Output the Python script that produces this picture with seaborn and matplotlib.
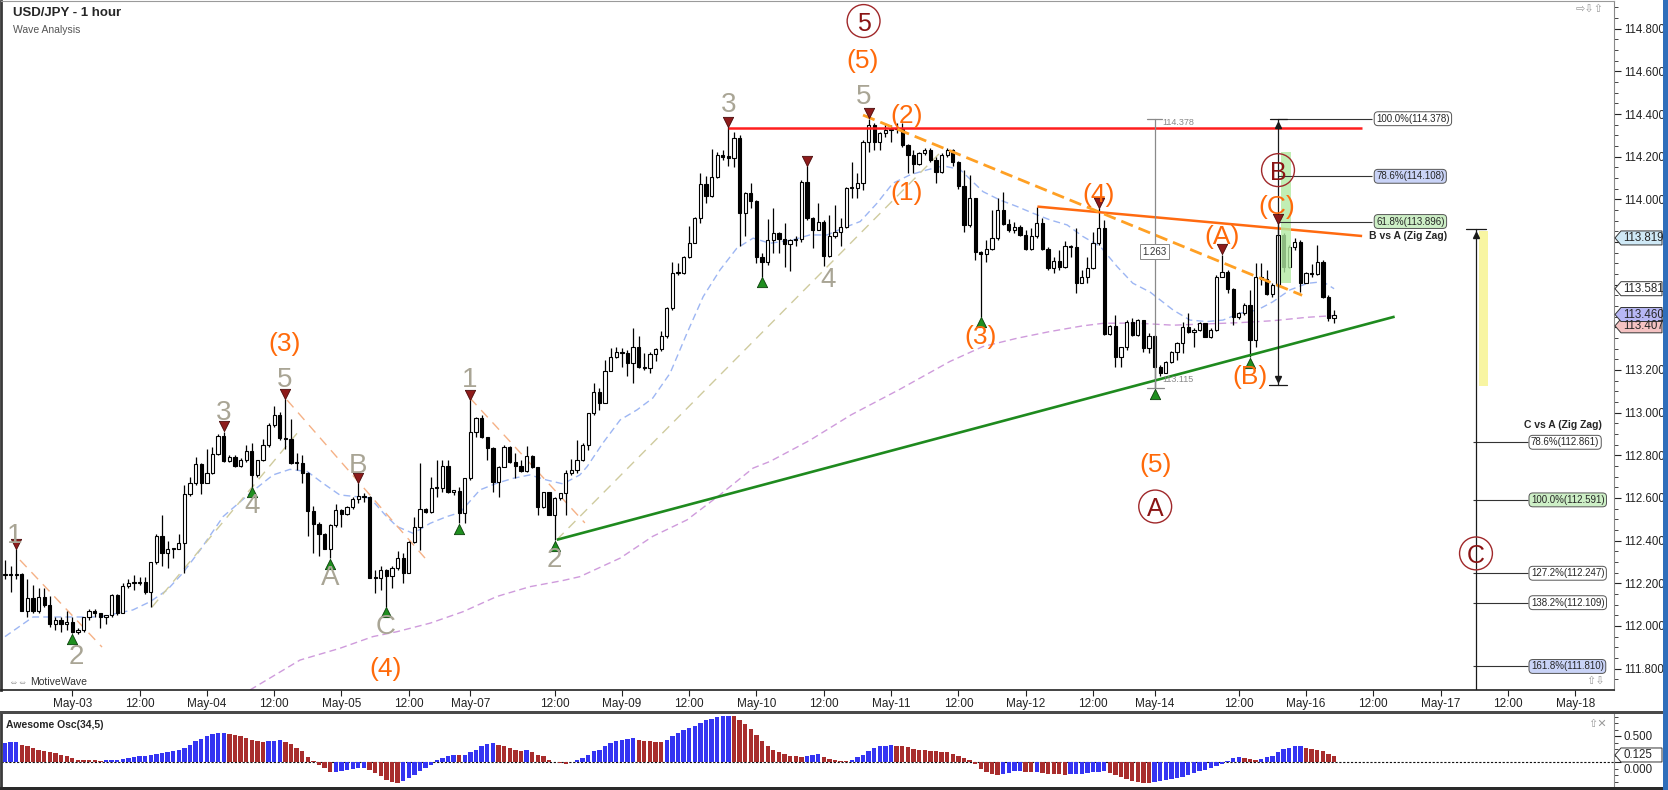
import numpy as np
import matplotlib
matplotlib.use("Agg")
import matplotlib.pyplot as plt
import matplotlib.transforms as mtrans
from matplotlib.patches import Rectangle, Polygon
from matplotlib.ticker import FixedLocator, FuncFormatter
from matplotlib import font_manager
import seaborn as sns

# ---------------- data ----------------
opens = [112.24, 112.245, 112.24, 112.245, 112.07, 112.13, 112.07, 112.135, 112.10, 112.01,
         112.03, 112.01, 112.02, 111.97, 111.98, 112.04, 112.07, 112.06, 112.04, 112.05,
         112.145, 112.06, 112.185, 112.20, 112.20, 112.205, 112.16, 112.30, 112.42, 112.34,
         112.36, 112.36, 112.39, 112.62, 112.67, 112.76, 112.672, 112.716, 112.806, 112.89,
         112.774, 112.794, 112.75, 112.778, 112.822, 112.708, 112.778, 112.85, 112.942, 112.989,
         112.88, 112.878, 112.763, 112.765, 112.716, 112.54, 112.48, 112.43, 112.36, 112.474,
         112.544, 112.525, 112.556, 112.594, 112.61, 112.605, 112.227, 112.224, 112.26, 112.232,
         112.27, 112.317, 112.25, 112.395, 112.466, 112.549, 112.536, 112.645, 112.646, 112.75,
         112.63, 112.633, 112.531, 112.692, 112.911, 112.974, 112.884, 112.833, 112.677, 112.747,
         112.841, 112.77, 112.752, 112.728, 112.797, 112.744, 112.556, 112.627, 112.52, 112.599,
         112.622, 112.716, 112.731, 112.779, 112.849, 112.997, 113.099, 113.047, 113.197, 113.263,
         113.282, 113.280, 113.232, 113.307, 113.213, 113.208, 113.276, 113.297, 113.36, 113.49,
         113.654, 113.656, 113.729, 113.797, 113.911, 114.072, 114.016, 114.104, 114.208, 114.20,
         114.196, 114.286, 113.938, 114.029, 113.993, 113.729, 113.708, 113.81, 113.841, 113.813,
         113.791, 113.81, 113.812, 114.083, 113.911, 113.857, 113.896, 113.735, 113.826, 113.849,
         113.872, 114.052, 114.054, 114.075, 114.271, 114.349, 114.271, 114.31, 114.325, 114.33,
         114.332, 114.255, 114.208, 114.166, 114.216, 114.232, 114.185, 114.13, 114.208, 114.232,
         114.177, 114.063, 113.88, 114.005, 113.755, 113.744, 113.766, 113.818, 113.95, 113.885,
         113.857, 113.872, 113.833, 113.766, 113.829, 113.891, 113.766, 113.68, 113.713, 113.682,
         113.779, 113.776, 113.61, 113.635, 113.677, 113.794, 113.865, 113.369, 113.404, 113.26,
         113.307, 113.427, 113.365, 113.432, 113.302, 113.36, 113.216, 113.188, 113.239, 113.286,
         113.325, 113.40, 113.38, 113.388, 113.419, 113.356, 113.388, 113.638, 113.661, 113.578,
         113.45, 113.466, 113.505, 113.341, 113.638, 113.628, 113.556, 113.60, 113.833, 113.685,
         113.778, 113.80, 113.61, 113.653, 113.648, 113.708, 113.544, 113.442]
highs = [112.31, 112.28, 112.36, 112.25, 112.22, 112.19, 112.18, 112.18, 112.14, 112.04,
         112.04, 112.07, 112.04, 111.99, 112.04, 112.08, 112.08, 112.06, 112.05, 112.15,
         112.15, 112.20, 112.22, 112.24, 112.23, 112.23, 112.30, 112.43, 112.52, 112.40,
         112.365, 112.43, 112.66, 112.70, 112.79, 112.765, 112.83, 112.84, 112.90, 112.91,
         112.80, 112.80, 112.786, 112.85, 112.856, 112.78, 112.875, 112.95, 113.03, 113.005,
         113.063, 112.97, 112.81, 112.80, 112.72, 112.56, 112.485, 112.435, 112.48, 112.57,
         112.547, 112.563, 112.603, 112.669, 112.625, 112.61, 112.26, 112.28, 112.265, 112.28,
         112.353, 112.34, 112.40, 112.513, 112.763, 112.555, 112.70, 112.778, 112.778, 112.778,
         112.635, 112.653, 112.692, 113.059, 112.981, 112.99, 112.888, 112.841, 112.75, 112.849,
         112.844, 112.809, 112.778, 112.844, 112.802, 112.747, 112.63, 112.63, 112.606, 112.625,
         112.731, 112.781, 112.872, 112.857, 113.0, 113.141, 113.115, 113.247, 113.302, 113.307,
         113.302, 113.294, 113.395, 113.36, 113.279, 113.286, 113.302, 113.385, 113.494, 113.704,
         113.70, 113.735, 113.875, 113.916, 114.122, 114.11, 114.235, 114.224, 114.232, 114.338,
         114.318, 114.302, 114.036, 114.075, 113.997, 113.747, 113.907, 113.958, 113.849, 113.888,
         113.813, 113.826, 114.091, 114.154, 113.919, 113.982, 113.904, 113.927, 113.974, 113.911,
         114.06, 114.177, 114.122, 114.279, 114.378, 114.357, 114.318, 114.357, 114.349, 114.357,
         114.357, 114.258, 114.229, 114.224, 114.24, 114.24, 114.2, 114.216, 114.24, 114.236,
         114.18, 114.138, 114.115, 114.008, 113.76, 113.81, 113.95, 114.005, 114.036, 113.907,
         113.896, 113.88, 113.857, 113.865, 113.966, 113.911, 113.776, 113.732, 113.763, 113.807,
         113.786, 113.865, 113.669, 113.729, 113.849, 113.958, 113.904, 113.411, 113.458, 113.31,
         113.435, 113.443, 113.438, 113.435, 113.372, 113.362, 113.224, 113.244, 113.29, 113.333,
         113.427, 113.466, 113.395, 113.427, 113.422, 113.395, 113.645, 113.74, 113.669, 113.583,
         113.474, 113.516, 113.575, 113.70, 113.70, 113.669, 113.61, 113.88, 113.841, 113.786,
         113.817, 113.81, 113.661, 113.697, 113.786, 113.716, 113.552, 113.481]
lows = [112.22, 112.16, 112.22, 112.07, 112.04, 112.06, 112.06, 112.09, 111.997, 111.98,
        111.97, 111.98, 111.965, 111.96, 111.97, 112.03, 112.04, 111.99, 112.01, 112.04,
        112.05, 112.06, 112.18, 112.17, 112.19, 112.15, 112.09, 112.29, 112.28, 112.27,
        112.32, 112.36, 112.25, 112.61, 112.66, 112.62, 112.67, 112.71, 112.80, 112.77,
        112.77, 112.747, 112.744, 112.77, 112.653, 112.70, 112.775, 112.84, 112.935, 112.872,
        112.83, 112.76, 112.73, 112.67, 112.42, 112.34, 112.33, 112.36, 112.317, 112.466,
        112.466, 112.52, 112.547, 112.575, 112.583, 112.224, 112.153, 112.17, 112.09, 112.18,
        112.263, 112.20, 112.247, 112.39, 112.356, 112.53, 112.528, 112.605, 112.63, 112.622,
        112.614, 112.481, 112.481, 112.684, 112.888, 112.88, 112.778, 112.63, 112.606, 112.744,
        112.763, 112.692, 112.724, 112.724, 112.739, 112.52, 112.552, 112.52, 112.403, 112.591,
        112.52, 112.708, 112.716, 112.775, 112.826, 112.99, 113.013, 113.044, 113.193, 113.255,
        113.216, 113.172, 113.138, 113.208, 113.2, 113.185, 113.244, 113.291, 113.349, 113.482,
        113.646, 113.651, 113.724, 113.794, 113.891, 113.982, 114.01, 114.099, 114.185, 114.154,
        114.15, 113.779, 113.826, 113.958, 113.70, 113.638, 113.693, 113.747, 113.747, 113.685,
        113.662, 113.779, 113.802, 113.904, 113.771, 113.857, 113.688, 113.732, 113.818, 113.779,
        113.865, 114.005, 114.005, 114.044, 114.224, 114.232, 114.232, 114.294, 114.271, 114.31,
        114.247, 114.122, 114.122, 114.161, 114.21, 114.177, 114.075, 114.122, 114.2, 114.154,
        114.05, 113.849, 113.872, 113.716, 113.45, 113.708, 113.763, 113.81, 113.88, 113.849,
        113.841, 113.829, 113.763, 113.763, 113.818, 113.763, 113.669, 113.654, 113.669, 113.68,
        113.732, 113.56, 113.607, 113.61, 113.672, 113.786, 113.365, 113.365, 113.216, 113.216,
        113.294, 113.357, 113.357, 113.286, 113.278, 113.115, 113.172, 113.185, 113.231, 113.247,
        113.278, 113.372, 113.309, 113.384, 113.353, 113.349, 113.384, 113.635, 113.56, 113.411,
        113.44, 113.458, 113.26, 113.31, 113.60, 113.552, 113.544, 113.59, 113.661, 113.677,
        113.763, 113.567, 113.606, 113.638, 113.645, 113.536, 113.431, 113.422]
closes = [112.245, 112.24, 112.245, 112.07, 112.13, 112.07, 112.135, 112.10, 112.01, 112.03,
          112.01, 112.02, 111.97, 111.98, 112.04, 112.07, 112.06, 112.04, 112.05, 112.145,
          112.06, 112.185, 112.20, 112.20, 112.205, 112.16, 112.30, 112.42, 112.34, 112.36,
          112.36, 112.39, 112.62, 112.67, 112.76, 112.672, 112.716, 112.806, 112.89, 112.774,
          112.794, 112.75, 112.778, 112.822, 112.708, 112.778, 112.85, 112.942, 112.989, 112.88,
          112.878, 112.763, 112.765, 112.716, 112.54, 112.48, 112.43, 112.36, 112.474, 112.544,
          112.525, 112.556, 112.594, 112.61, 112.605, 112.227, 112.224, 112.26, 112.232, 112.27,
          112.317, 112.25, 112.395, 112.466, 112.549, 112.536, 112.645, 112.646, 112.75, 112.63,
          112.633, 112.531, 112.692, 112.911, 112.974, 112.884, 112.833, 112.677, 112.747, 112.841,
          112.77, 112.752, 112.728, 112.797, 112.744, 112.556, 112.627, 112.52, 112.599, 112.622,
          112.716, 112.731, 112.779, 112.849, 112.997, 113.099, 113.047, 113.197, 113.263, 113.282,
          113.280, 113.232, 113.307, 113.213, 113.208, 113.276, 113.297, 113.36, 113.49, 113.654,
          113.656, 113.729, 113.797, 113.911, 114.072, 114.016, 114.104, 114.208, 114.20, 114.196,
          114.286, 113.938, 114.029, 113.993, 113.729, 113.708, 113.81, 113.841, 113.813, 113.791,
          113.81, 113.812, 114.083, 113.911, 113.857, 113.896, 113.735, 113.826, 113.849, 113.872,
          114.052, 114.054, 114.075, 114.271, 114.349, 114.271, 114.31, 114.325, 114.33, 114.332,
          114.255, 114.208, 114.166, 114.216, 114.232, 114.185, 114.13, 114.208, 114.232, 114.177,
          114.063, 113.88, 114.005, 113.755, 113.744, 113.766, 113.818, 113.95, 113.885, 113.857,
          113.872, 113.833, 113.766, 113.829, 113.891, 113.766, 113.68, 113.713, 113.682, 113.779,
          113.776, 113.61, 113.635, 113.677, 113.794, 113.865, 113.369, 113.404, 113.26, 113.307,
          113.427, 113.365, 113.432, 113.302, 113.36, 113.216, 113.188, 113.239, 113.286, 113.325,
          113.40, 113.38, 113.388, 113.419, 113.356, 113.388, 113.638, 113.661, 113.578, 113.45,
          113.466, 113.505, 113.341, 113.638, 113.628, 113.556, 113.60, 113.833, 113.685, 113.778,
          113.80, 113.61, 113.653, 113.648, 113.708, 113.544, 113.442, 113.46]

# moving averages read as points (bar index, price)
ma_fast_x = [0, 5.0, 11.1, 16.9, 22.8, 25.9, 28.9, 31.7, 34.8, 38.9, 43.7, 47.8, 50.8, 53.9, 56.7,
             59.7, 62.8, 65.1, 67.8, 69.9, 72.8, 75.8, 78.8, 81.1, 84.7, 87.7, 90.6, 93.6, 96.6,
             99.5, 102.5, 103.8, 106.6, 109.7, 112.7, 115.5, 118.6, 121.6, 124.5, 127.5, 130.5,
             133.4, 136.4, 140.5, 143.5, 146.6, 149.4, 152.5, 155.5, 158.3, 161.4, 164.4, 167.3,
             170.3, 174.4, 177.4, 180.5, 183.3, 186.3, 189.4, 192.2, 195.3, 198.3, 201.1, 204.2,
             208.3, 211.3, 214.3, 217.2, 220.2, 223.3, 226.1, 229.1, 232.2, 235.0, 237.0]
ma_fast_y = [111.95, 112.042, 112.042, 112.042, 112.075, 112.114, 112.168, 112.248, 112.356, 112.513,
             112.622, 112.708, 112.734, 112.724, 112.669, 112.614, 112.606, 112.60, 112.52, 112.466,
             112.434, 112.481, 112.513, 112.531, 112.638, 112.669, 112.692, 112.708, 112.684, 112.666,
             112.708, 112.747, 112.857, 112.966, 113.013, 113.068, 113.185, 113.372, 113.544, 113.669,
             113.771, 113.818, 113.794, 113.81, 113.833, 113.833, 113.865, 113.896, 113.982, 114.075,
             114.115, 114.138, 114.157, 114.14, 114.036, 113.997, 113.966, 113.935, 113.904, 113.88,
             113.826, 113.779, 113.685, 113.607, 113.565, 113.481, 113.434, 113.427, 113.434, 113.466,
             113.481, 113.52, 113.575, 113.606, 113.614, 113.581]
ma_slow_x = [43.7, 52.6, 59.7, 65.6, 69.9, 75.8, 81.7, 87.7, 93.6, 99.5, 102.5, 109.7, 115.5, 121.6,
             127.5, 133.4, 136.4, 143.5, 150.9, 159.6, 168.5, 174.4, 180.5, 186.3, 192.2, 195.9,
             201.5, 208.3, 214.3, 220.2, 226.1, 232.2, 237.0]
ma_slow_y = [111.70, 111.84, 111.895, 111.95, 111.973, 112.013, 112.067, 112.138, 112.184, 112.213,
             112.231, 112.318, 112.42, 112.497, 112.615, 112.74, 112.771, 112.87, 112.99, 113.11,
             113.24, 113.31, 113.349, 113.38, 113.407, 113.419, 113.42, 113.41, 113.416, 113.422,
             113.431, 113.447, 113.455]

# Awesome oscillator values and colour runs
ao_values = [0.365, 0.378, 0.391, 0.333, 0.301, 0.269, 0.237, 0.218, 0.199, 0.173,
             0.141, 0.122, 0.077, 0.045, 0.044, 0.042, 0.038, 0.026, 0.032, 0.04,
             0.047, 0.058, 0.083, 0.103, 0.115, 0.122, 0.141, 0.16, 0.173, 0.192,
             0.218, 0.237, 0.269, 0.333, 0.397, 0.442, 0.506, 0.545, 0.551, 0.553,
             0.545, 0.526, 0.494, 0.462, 0.429, 0.397, 0.39, 0.397, 0.41, 0.417,
             0.391, 0.353, 0.269, 0.205, 0.096, 0.013, -0.051, -0.115, -0.2, -0.19,
             -0.17, -0.155, -0.135, -0.118, -0.11, -0.16, -0.21, -0.276, -0.34, -0.385,
             -0.404, -0.372, -0.308, -0.244, -0.179, -0.115, -0.051, 0.045, 0.077, 0.122,
             0.135, 0.13, 0.141, 0.186, 0.237, 0.301, 0.346, 0.365, 0.333, 0.301,
             0.269, 0.237, 0.218, 0.224, 0.186, 0.141, 0.109, 0.045, 0.0, -0.019,
             -0.032, -0.006, 0.032, 0.077, 0.141, 0.205, 0.237, 0.301, 0.365, 0.41,
             0.429, 0.442, 0.455, 0.43, 0.41, 0.395, 0.39, 0.385, 0.429, 0.494,
             0.558, 0.609, 0.654, 0.699, 0.75, 0.801, 0.833, 0.865, 0.889, 0.892,
             0.89, 0.814, 0.737, 0.635, 0.526, 0.397, 0.301, 0.237, 0.186, 0.147,
             0.122, 0.109, 0.105, 0.122, 0.135, 0.147, 0.096, 0.058, 0.045, 0.026,
             0.013, 0.045, 0.096, 0.141, 0.218, 0.269, 0.301, 0.314, 0.333, 0.314,
             0.301, 0.282, 0.256, 0.237, 0.224, 0.205, 0.203, 0.199, 0.186, 0.16,
             0.122, 0.077, 0.045, -0.032, -0.135, -0.199, -0.231, -0.244, -0.23, -0.212,
             -0.179, -0.167, -0.186, -0.199, -0.19, -0.212, -0.224, -0.228, -0.235, -0.244,
             -0.24, -0.231, -0.224, -0.212, -0.199, -0.186, -0.179, -0.212, -0.244, -0.29,
             -0.33, -0.36, -0.38, -0.395, -0.40, -0.39, -0.37, -0.35, -0.33, -0.31,
             -0.288, -0.25, -0.21, -0.18, -0.15, -0.12, -0.08, -0.04, 0.02, 0.07,
             0.10, 0.08, 0.06, 0.045, 0.058, 0.096, 0.122, 0.186, 0.25, 0.269,
             0.301, 0.314, 0.269, 0.25, 0.237, 0.205, 0.16, 0.125]
ao_color_runs = [("B", 3), ("R", 15), ("B", 22), ("R", 7), ("B", 3), ("R", 9), ("B", 6), ("R", 6),
                 ("B", 10), ("R", 1), ("B", 6), ("R", 5), ("B", 1), ("R", 7), ("B", 12), ("R", 5),
                 ("B", 12), ("R", 13), ("B", 3), ("R", 5), ("B", 8), ("R", 19), ("B", 4), ("R", 2),
                 ("B", 1), ("R", 5), ("B", 7), ("R", 8), ("B", 16), ("R", 3), ("B", 8), ("R", 6)]

tick_pos = [12, 24, 36, 48, 60, 72, 83, 98, 110, 122, 134, 146, 158, 170, 182, 194, 205, 220,
            232, 244, 256, 268, 280]
tick_labels = ["May-03", "12:00", "May-04", "12:00", "May-05", "12:00", "May-07", "12:00", "May-09",
               "12:00", "May-10", "12:00", "May-11", "12:00", "May-12", "12:00", "May-14", "12:00",
               "May-16", "12:00", "May-17", "12:00", "May-18"]

tri_down_bars = [2, 39, 50, 63, 83, 129, 143, 154, 195, 217, 227]
tri_up_bars = [12, 44, 58, 68, 81, 98, 135, 174, 205, 222]

gray_labels = [("1", 1.8, 112.42), ("2", 12.7, 111.855), ("3", 38.9, 113.0), ("4", 44.0, 112.56),
               ("5", 49.9, 113.153), ("A", 58.0, 112.223), ("B", 63.0, 112.75), ("C", 67.8, 111.996),
               ("1", 82.9, 113.153), ("2", 97.9, 112.309), ("3", 129.0, 114.442), ("4", 146.8, 113.62),
               ("5", 153.1, 114.481)]
orange_labels = [("(3)", 49.8, 113.32), ("(4)", 67.8, 111.80), ("(5)", 152.9, 114.65), ("(2)", 160.7, 114.39),
                 ("(1)", 160.8, 114.028), ("(3)", 174.0, 113.356), ("(4)", 195.0, 114.02),
                 ("(5)", 205.1, 112.756), ("(A)", 217.0, 113.825), ("(B)", 222.0, 113.169),
                 ("(C)", 226.8, 113.966)]
circle_labels = [("5", 153.1, 114.836), ("B", 227.0, 114.137), ("A", 205.1, 112.56), ("C", 262.3, 112.34)]

fib_upper_levels = [114.378, 114.108, 113.896]
fib_upper_text = ["100.0%(114.378)", "78.6%(114.108)", "61.8%(113.896)"]
fib_upper_fc = ["white", "#C9D3F7", "#CDEFC6"]
fib_lower_levels = [112.861, 112.591, 112.247, 112.109, 111.810]
fib_lower_text = ["78.6%(112.861)", "100.0%(112.591)", "127.2%(112.247)", "138.2%(112.109)", "161.8%(111.810)"]
fib_lower_fc = ["white", "#CDEFC6", "white", "white", "#C9D3F7"]

# ---------------- style ----------------
sns.set_style("white")
names = {f.name for f in font_manager.fontManager.ttflist}
base = "Liberation Sans" if "Liberation Sans" in names else "DejaVu Sans"
narrow = "Liberation Sans Narrow" if "Liberation Sans Narrow" in names else base
plt.rcParams["font.family"] = [base, "DejaVu Sans"]

W, H = 1668, 790
fig = plt.figure(figsize=(W / 100, H / 100), dpi=100)
fig.patch.set_facecolor("white")


def px_axes(x0, y0, x1, y1):
    return fig.add_axes([x0 / W, 1 - y1 / H, (x1 - x0) / W, (y1 - y0) / H])


X0, DX = 5.0, 5.608       # pixel of bar 0, pixels per bar
PY0, PPU = 28.7, 213.3    # pixel of 114.800, pixels per 1.0
ax = px_axes(1, 1, 1614, 690)
ax2 = px_axes(1, 712, 1614, 787)
xlim = ((1 - X0) / DX, (1614 - X0) / DX)
ax.set_xlim(*xlim)
ax2.set_xlim(*xlim)
ax.set_ylim(114.8 - (690 - PY0) / PPU, 114.8 + (PY0 - 1) / PPU)
ax2.set_ylim(-25 / 52, 50 / 52)

o = np.array(opens); h = np.array(highs); l = np.array(lows); c = np.array(closes)
n = len(c)
xb = np.arange(n)

# moving averages
sns.lineplot(x=ma_slow_x, y=ma_slow_y, ax=ax, color="#CF9BDC", lw=1.0, linestyle=(0, (5, 3)),
             estimator=None, sort=False, zorder=2)
sns.lineplot(x=ma_fast_x, y=ma_fast_y, ax=ax, color="#9DB6F3", lw=1.0, linestyle=(0, (5, 3)),
             estimator=None, sort=False, zorder=2)

# wave channel dashed lines
peach = "#F5B186"; khaki = "#CFCB9E"
for (xa, ya, xc, yc, col) in [(2.67, 112.309, 17.3, 111.901, peach), (26.2, 112.088, 52.1, 112.904, khaki),
                              (50.3, 113.059, 75.2, 112.309, peach), (82.9, 113.069, 103.4, 112.483, peach),
                              (98.4, 112.404, 167.3, 114.233, khaki)]:
    ax.plot([xa, xc], [ya, yc], color=col, lw=1.0, ls=(0, (7, 5)), zorder=2)

# candles
up = c >= o
ax.vlines(xb, l, h, color="black", lw=0.9, zorder=3)
bot = np.minimum(o, c)
bh = np.maximum(np.abs(c - o), 0.005)
ax.bar(xb, bh, bottom=bot, width=0.58, color=np.where(up, "white", "black"),
       edgecolor="black", linewidth=0.8, zorder=4)

# trend lines
ax.plot([129, 242], [114.336, 114.336], color="#FF1E1E", lw=1.8, zorder=5, solid_capstyle="butt")
ax.plot([184.1, 242], [113.966, 113.828], color="#FF6A10", lw=1.8, zorder=5, solid_capstyle="butt")
ax.plot([153.0, 231.3], [114.395, 113.55], color="#FFA024", lw=2.0, ls=(0, (4.5, 2.2)), zorder=5)
ax.plot([98.4, 247.8], [112.404, 113.45], color="#1E8A1E", lw=1.9, zorder=5, solid_capstyle="butt")

# green / yellow highlight boxes
ax.add_patch(Rectangle((227.6, 113.609), 1.8, 0.611, fc="#B2EAA2", ec="none", alpha=0.8, zorder=5))
ax.add_patch(Rectangle((262.8, 113.125), 1.6, 0.725, fc="#F8F5A2", ec="none", zorder=2))

# measure lines
g = "#8A8A8A"
ax.plot([205, 205], [114.378, 113.115], color=g, lw=0.9, zorder=5)
ax.plot([203.6, 206.4], [114.378, 114.378], color=g, lw=0.9, zorder=5)
ax.plot([203.6, 206.6], [113.115, 113.115], color=g, lw=0.9, zorder=5)
ax.text(206.3, 114.358, "114.378", fontsize=6.5, color=g, ha="left", va="center", zorder=6)
ax.text(206.3, 113.157, "113.115", fontsize=6.5, color=g, ha="left", va="center", zorder=6)
ax.text(205, 113.755, "1.263", fontsize=7, color="#333333", ha="center", va="center", zorder=7,
        bbox=dict(boxstyle="square,pad=0.25", fc="white", ec="#888888", lw=0.7))

k = "#1A1A1A"
ax.plot([227, 227], [114.378, 113.13], color=k, lw=0.9, zorder=6)
ax.plot([225.6, 228.6], [114.378, 114.378], color=k, lw=0.9, zorder=6)
ax.plot([225.4, 228.6], [113.13, 113.13], color=k, lw=0.9, zorder=6)
ax.plot([227], [114.35], marker="^", ms=5, color=k, zorder=6)
ax.plot([227], [113.16], marker="v", ms=5, color=k, zorder=6)
ax.hlines(fib_upper_levels, 227, 243.8, color="#333333", lw=0.8, zorder=5)
for lv, tx, fc in zip(fib_upper_levels, fib_upper_text, fib_upper_fc):
    ax.text(244.5, lv, tx, fontsize=7, ha="left", va="center", zorder=7,
            bbox=dict(boxstyle="round,pad=0.2,rounding_size=0.4", fc=fc, ec="#555555", lw=0.7))
ax.text(243.3, 113.826, "B vs A (Zig Zag)", fontsize=7.5, weight="bold", ha="left", va="center", zorder=7)

ax.plot([262.3, 262.3], [113.863, 111.70], color=k, lw=0.9, zorder=6)
ax.plot([260.6, 264.0], [113.863, 113.863], color=k, lw=0.9, zorder=6)
ax.plot([262.3], [113.835], marker="^", ms=5, color=k, zorder=6)
ax.hlines(fib_lower_levels, 261.8, 271.6, color="#333333", lw=0.8, zorder=5)
for lv, tx, fc in zip(fib_lower_levels, fib_lower_text, fib_lower_fc):
    ax.text(272.1, lv, tx, fontsize=7, ha="left", va="center", zorder=7,
            bbox=dict(boxstyle="round,pad=0.2,rounding_size=0.4", fc=fc, ec="#555555", lw=0.7))
ax.text(270.9, 112.942, "C vs A (Zig Zag)", fontsize=7.5, weight="bold", ha="left", va="center", zorder=7)

# pivot triangles
sns.scatterplot(x=tri_down_bars, y=[h[i] + 0.026 for i in tri_down_bars], ax=ax, marker="v", s=55,
                color="#8E1B1B", edgecolor="#4A0A0A", linewidth=0.6, zorder=8, legend=False)
sns.scatterplot(x=tri_up_bars, y=[l[i] - 0.026 for i in tri_up_bars], ax=ax, marker="^", s=55,
                color="#1F8F1F", edgecolor="#0A3F0A", linewidth=0.6, zorder=8, legend=False)

# wave labels
for t, xi, yi in gray_labels:
    ax.text(xi, yi, t, fontsize=20, color="#A9A595", ha="center", va="center", zorder=8)
for t, xi, yi in orange_labels:
    ax.text(xi, yi, t, fontsize=19, color="#FF6A0A", ha="center", va="center", zorder=8)
for t, xi, yi in circle_labels:
    ax.scatter([xi], [yi], s=560, facecolor="none", edgecolor="#A0282A", linewidth=1.0, zorder=8)
    ax.text(xi, yi, t, fontsize=18, color="#8A1414", ha="center", va="center_baseline", zorder=9)

# axes styling: main
hidden_price_labels = {113.4, 113.6, 113.8}   # covered by the price flags in the reference
ax.yaxis.tick_right()
ax.yaxis.set_major_locator(FixedLocator(np.round(np.arange(111.8, 114.801, 0.2), 3)))
ax.yaxis.set_minor_locator(FixedLocator(np.round(np.arange(111.75, 114.9, 0.05), 3)))
ax.yaxis.set_major_formatter(FuncFormatter(
    lambda v, p: "" if round(v, 3) in hidden_price_labels else "%.3f" % v))
ax.tick_params(axis="y", which="major", length=5, width=0.8, pad=2, labelsize=8.3, colors="#222222")
ax.tick_params(axis="y", which="minor", length=3, width=0.7, colors="#444444")
ax.set_xticks(tick_pos)
ax.set_xticklabels(tick_labels, fontfamily=narrow, fontsize=8.5)
ax.tick_params(axis="x", which="major", length=4, width=0.8, pad=1.5, colors="#222222", bottom=True)
ax.set_xlabel(""); ax.set_ylabel("")
for side, col, lw in [("left", "#3A3A3A", 2.0), ("top", "#9A9A9A", 0.8), ("right", "#8A8A8A", 0.8),
                      ("bottom", "#222222", 1.2)]:
    ax.spines[side].set_visible(True)
    ax.spines[side].set_color(col)
    ax.spines[side].set_linewidth(lw)

# price flags on the right axis
def price_flag(axis, y, txt, fc, ppx, axw=1613.0, fs=8.3):
    tr = mtrans.blended_transform_factory(axis.transAxes, axis.transData)
    hh = 7 * ppx
    x0 = 1.0 + 1 / axw; x1 = 1.0 + 7 / axw; x2 = 1.0 + 48 / axw
    axis.add_patch(Polygon([(x0, y), (x1, y + hh), (x2, y + hh), (x2, y - hh), (x1, y - hh)], closed=True,
                           transform=tr, clip_on=False, fc=fc, ec="#333333", lw=0.7, zorder=10))
    axis.text(1.0 + 9 / axw, y, txt, transform=tr, ha="left", va="center", fontsize=fs, zorder=11,
              clip_on=False)

ppx_main = 1 / PPU
price_flag(ax, 113.819, "113.819", "#CFE9F6", ppx_main)
price_flag(ax, 113.581, "113.581", "white", ppx_main)
price_flag(ax, 113.407, "113.407", "#F4C2C2", ppx_main)
price_flag(ax, 113.460, "113.460", "#B7B7F4", ppx_main)

# oscillator
ao_colors = []
for col, cnt in ao_color_runs:
    ao_colors += ["#3434F2" if col == "B" else "#A82D2D"] * cnt
ax2.bar(np.arange(len(ao_values)), ao_values, width=0.78, color=ao_colors, linewidth=0, zorder=3)
ax2.axhline(0, color="#111111", lw=0.8, ls=(0, (2, 1.5)), zorder=2)
ax2.set_xticks([])
ax2.yaxis.tick_right()
ax2.set_yticks([0.0, 0.5])
ax2.set_yticklabels(["", "0.500"])
ax2.yaxis.set_minor_locator(FixedLocator([-0.375, -0.25, -0.125, 0.125, 0.25, 0.375, 0.625, 0.75, 0.875]))
ax2.tick_params(axis="y", which="major", length=5, width=0.8, pad=2, labelsize=8.3, colors="#222222")
ax2.tick_params(axis="y", which="minor", length=3, width=0.7, colors="#444444")
for side, col, lw, vis in [("left", "#3A3A3A", 2.0, True), ("top", "#555555", 0.8, False),
                           ("right", "#8A8A8A", 0.8, True), ("bottom", "#333333", 0.8, False)]:
    ax2.spines[side].set_visible(vis)
    ax2.spines[side].set_color(col)
    ax2.spines[side].set_linewidth(lw)
tr2 = mtrans.blended_transform_factory(ax2.transAxes, ax2.transData)
ax2.text(1.0 + 9 / 1613.0, -0.26, "0.000", transform=tr2, ha="left", va="bottom", fontsize=8.3,
         color="#222222", clip_on=False, zorder=9)
price_flag(ax2, 0.135, "0.125", "white", 1 / 52)

# frame decorations and texts
fig.add_artist(Rectangle((0, 1 - 713.5 / H), 1, 2.5 / H, transform=fig.transFigure, fc="#4A4A4A", ec="none"))
fig.add_artist(Rectangle((0, 0), 1, 3 / H, transform=fig.transFigure, fc="#2A2A2A", ec="none"))
fig.add_artist(Rectangle((1663 / W, 0), 5 / W, 1, transform=fig.transFigure, fc="#2F6EBA", ec="none"))
fig.text(13 / W, 1 - 13 / H, "USD/JPY - 1 hour", fontsize=9.5, weight="bold", ha="left", va="center")
fig.text(13 / W, 1 - 30 / H, "Wave Analysis", fontsize=7.5, color="#555555", ha="left", va="center")
fig.text(8 / W, 1 - 682 / H, "\u21d4\u21d4", fontsize=7, color="#8A8A8A", ha="left", va="center")
fig.text(30 / W, 1 - 682 / H, "MotiveWave", fontsize=7.5, color="#333333", ha="left", va="center")
fig.text(1576 / W, 1 - 9 / H, "\u21e8\u21e9\u21e7", fontsize=8, color="#9A9A9A", ha="left", va="center")
fig.text(1586 / W, 1 - 681 / H, "\u21e7\u21e9", fontsize=8, color="#9A9A9A", ha="left", va="center")
fig.text(1588 / W, 1 - 724 / H, "\u21e7\u2715", fontsize=8, color="#9A9A9A", ha="left", va="center")
fig.text(6 / W, 1 - 725 / H, "Awesome Osc(34,5)", fontsize=7.5, weight="bold", ha="left", va="center")

fig.savefig("out.png", dpi=100)
